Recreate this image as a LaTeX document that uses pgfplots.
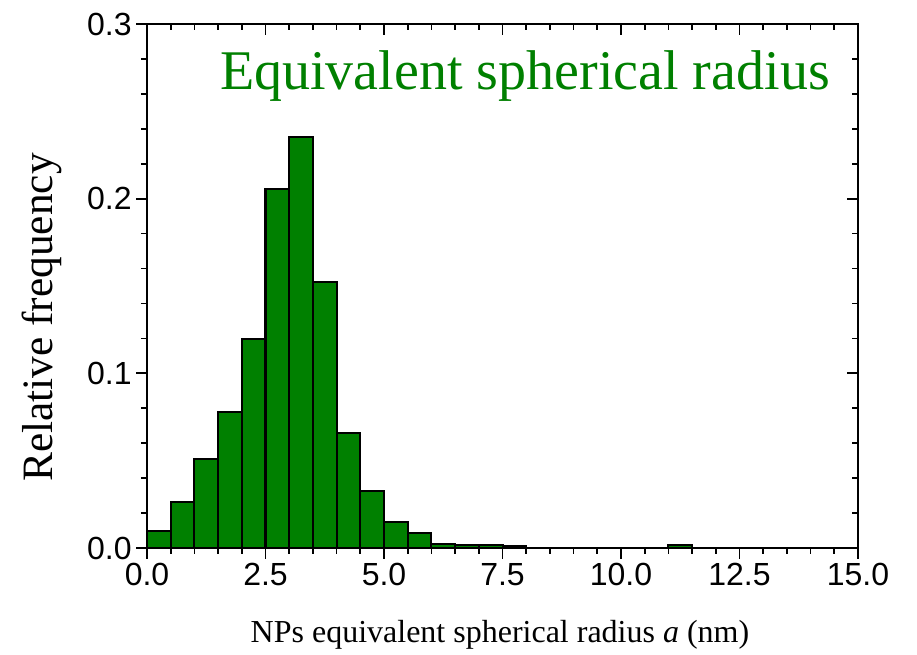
\documentclass[border=0pt]{standalone}
\usepackage{fontspec}
\setmainfont{Liberation Serif}
\setsansfont{Liberation Sans}
\usepackage{pgfplots}
\pgfplotsset{compat=1.18}
\definecolor{bargreen}{RGB}{0,128,0}
\begin{document}
\begin{tikzpicture}
\path[use as bounding box] (-110.25pt,-80.25pt) rectangle (577.5pt,411pt);
\pgfplotsset{
  common/.style={
    scale only axis, width=533.25pt, height=393pt,
    xmin=0, xmax=15, ymin=0, ymax=0.3,
    xtick={0,2.5,...,15}, ytick={0,0.1,0.2,0.3},
    minor x tick num=4, minor y tick num=4,
    axis line style={line width=1.4pt},
    major tick length=8pt, minor tick length=4.5pt,
    every tick/.style={black, line width=1.3pt},
  }
}
\begin{axis}[common,
  tick align=outside,
  xtick pos=bottom, ytick pos=left,
  /pgf/number format/assume math mode=true,
  tick label style={font=\fontsize{24}{24}\selectfont\sffamily},
  xticklabel style={/pgf/number format/.cd, fixed, fixed zerofill, precision=1},
  yticklabel style={/pgf/number format/.cd, fixed, fixed zerofill, precision=1},
  scaled y ticks=false,
  xlabel={NPs equivalent spherical radius \textit{a} (nm)},
  ylabel={Relative frequency},
  xlabel style={font=\fontsize{24}{24}\selectfont, at={(axis description cs:0.4965,-0.166)}, anchor=center},
  ylabel style={font=\fontsize{32.5}{32.5}\selectfont, at={(axis description cs:-0.148,0.44)}, anchor=center},
]
\addplot[ybar interval, fill=bargreen, draw=black, line width=1.5pt] coordinates {
(0,0.0097) (0.5,0.0262) (1.0,0.0509) (1.5,0.0778) (2.0,0.1196) (2.5,0.2055)
(3.0,0.2353) (3.5,0.1523) (4.0,0.0658) (4.5,0.0329) (5.0,0.0147) (5.5,0.0088)
(6.0,0.0025) (6.5,0.0017) (7.0,0.0015) (7.5,0.0010) (8.0,0.0010)
};
\addplot[ybar interval, fill=bargreen, draw=black, line width=1.5pt] coordinates {
(11.0,0.0015) (11.5,0.0015)
};
\node[anchor=base east, text=bargreen, font=\fontsize{42}{42}\selectfont, inner sep=0pt] at (axis cs:14.41,0.2625) {Equivalent spherical radius};
\end{axis}
\begin{axis}[common,
  tick align=inside,
  xtick pos=top, ytick pos=right,
  xticklabels={}, yticklabels={},
]
\end{axis}
\end{tikzpicture}
\end{document}
